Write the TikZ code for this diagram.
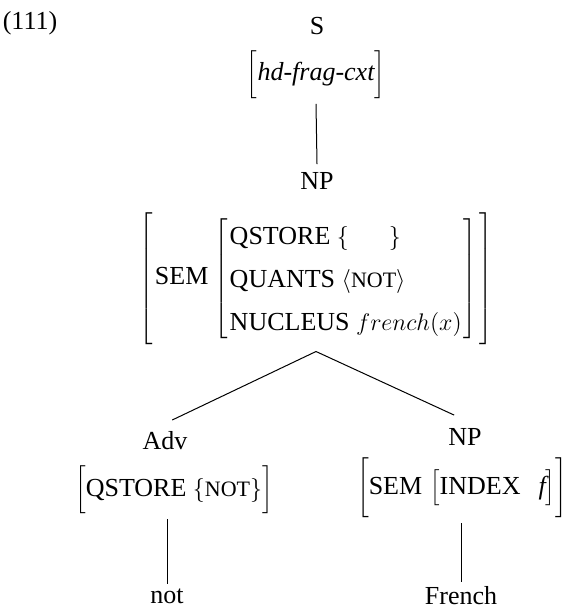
\documentclass[tikz,border=0pt]{standalone}
\usepackage{fontspec}
\setmainfont{Liberation Serif}
\tikzset{
    cat/.style =    {inner sep=4pt,
                    text=black,
                    font=\fontsize{13}{15}\selectfont},
    avm/.style =    {inner sep=0pt,
                    outer sep=2.5pt,
                    text=black,
                    font=\fontsize{13}{21.5}\selectfont},
    word/.style =   {inner sep=2pt,
                    text=black,
                    font=\fontsize{13}{15}\selectfont},
    branch/.style = {draw=black,
                    line width=0.5pt},
    -}
\newcommand{\sval}[1]{{\fontsize{11}{13}\selectfont #1}}

\begin{document}
\begin{tikzpicture}[x=0.5pt,y=-0.5pt]
                \useasboundingbox (0,0) rectangle (565,608);
                \node[cat]      (ex)     at (30,23)    {(111)};
                \node[cat]      (S)      at (317,26)   {S};
                \node[avm]      (Sfeat)  at (316,75)
                    {$\left[\rule[-7pt]{0pt}{16pt}\mbox{\itshape hd-frag-cxt}\right]$};
                \node[cat]      (NP)     at (317,181)  {NP};
                \node[avm]      (NPfeat) at (316,278)
                    {$\left[\rule[-31pt]{0pt}{68.5pt}\hspace{1pt}\mbox{SEM}\hspace{1pt}\left[\hspace{1pt}\begin{tabular}{@{}l@{}}
                        QSTORE $\{\hspace{20pt}\}$\\
                        QUANTS $\langle$\sval{NOT}$\rangle$\\
                        NUCLEUS $french(x)$
                    \end{tabular}\hspace{1pt}\right]\hspace{1pt}\right]$};
                \node[cat]      (Adv)    at (165,441)  {Adv};
                \node[avm]      (Advfeat) at (174,490)
                    {$\left[\rule[-9pt]{0pt}{18pt}\mbox{QSTORE $\{$\sval{NOT}$\}$}\right]$};
                \node[cat]      (NPb)    at (465,437)  {NP};
                \node[avm]      (NPbfeat) at (462,488)
                    {$\left[\rule[-12pt]{0pt}{21pt}\mbox{SEM}\,\left[\rule[-5pt]{0pt}{15pt}\mbox{INDEX\hspace{9pt}\itshape f}\right]\right]$};
                \node[word]     (not)    at (167,596)  {not};
                \node[word]     (French) at (461,596)  {French};
                \path [branch]  (Sfeat.south) edge (NP.north)
                                (NPfeat.south) edge [shorten >=4pt] (Adv.north)
                                (NPfeat.south) edge [shorten >=6pt] (NPb.north)
                                (not.north |- Advfeat.south) edge (not.north)
                                (French.north |- NPbfeat.south) edge (French.north);
        \end{tikzpicture}
\end{document}
